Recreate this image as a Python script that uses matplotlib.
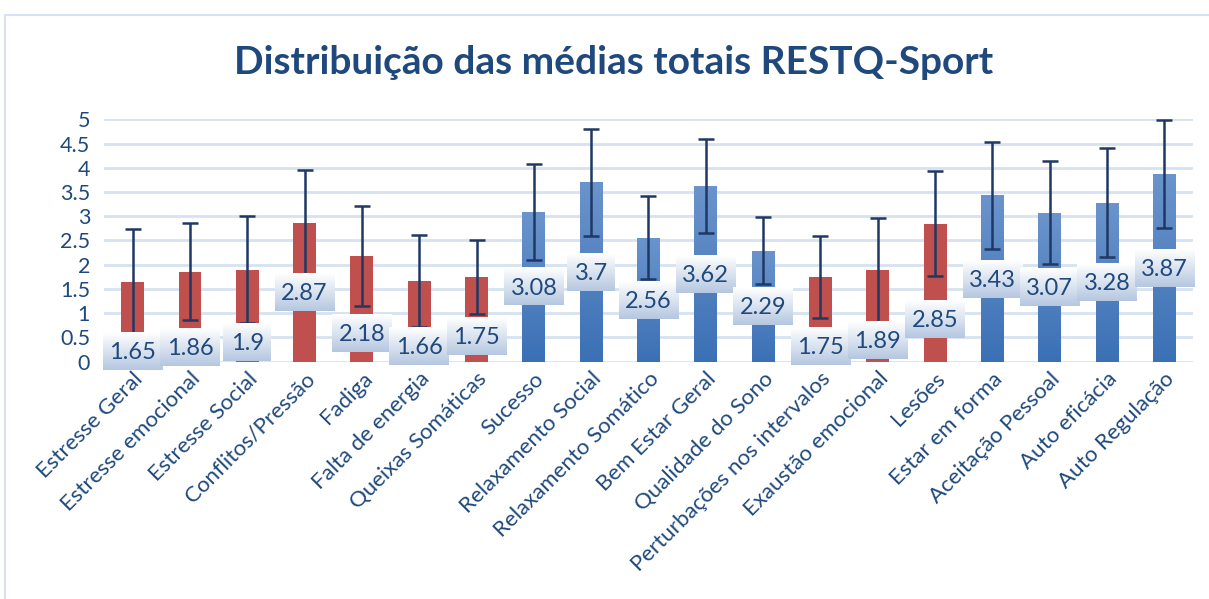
import numpy as np
import matplotlib.pyplot as plt
from matplotlib.patches import Rectangle

plt.rcParams['font.family'] = ['Lato', 'DejaVu Sans']

categorias = ["Estresse Geral", "Estresse emocional", "Estresse Social", "Conflitos/Pressão",
              "Fadiga", "Falta de energia", "Queixas Somáticas", "Sucesso", "Relaxamento Social",
              "Relaxamento Somático", "Bem Estar Geral", "Qualidade do Sono",
              "Perturbações nos intervalos", "Exaustão emocional", "Lesões", "Estar em forma",
              "Aceitação Pessoal", "Auto eficácia", "Auto Regulação"]
medias = [1.65, 1.86, 1.9, 2.87, 2.18, 1.66, 1.75, 3.08, 3.7, 2.56, 3.62, 2.29,
          1.75, 1.89, 2.85, 3.43, 3.07, 3.28, 3.87]
desvios = [1.09, 1.01, 1.11, 1.08, 1.04, 0.95, 0.76, 0.99, 1.10, 0.86, 0.97, 0.69,
           0.84, 1.08, 1.08, 1.10, 1.06, 1.13, 1.12]
# estresse (vermelho) ou recuperação (azul)
estresse = [1, 1, 1, 1, 1, 1, 1, 0, 0, 0, 0, 0, 1, 1, 1, 0, 0, 0, 0]
rotulos = ["1.65", "1.86", "1.9", "2.87", "2.18", "1.66", "1.75", "3.08", "3.7", "2.56",
           "3.62", "2.29", "1.75", "1.89", "2.85", "3.43", "3.07", "3.28", "3.87"]
# centro vertical das caixas de rótulo
pos_rotulo = [0.21, 0.30, 0.41, 1.43, 0.59, 0.32, 0.53, 1.55, 1.85, 1.27, 1.81, 1.14,
              0.33, 0.45, 0.88, 1.71, 1.54, 1.64, 1.93]

azul_escuro = "#1F497D"

fig = plt.figure(figsize=(12.09, 5.99), dpi=100)
ax = fig.add_axes([104 / 1209, 1 - 361.7 / 599, 1089 / 1209, 242.4 / 599])

x = np.arange(len(categorias))

for v in np.arange(0, 5.01, 0.5):
    ax.axhline(v, color="#D6E2F1", lw=2, zorder=0)

grad = np.linspace(0, 1, 100).reshape(-1, 1)
for i, (m, e) in enumerate(zip(medias, estresse)):
    if e:
        ax.add_patch(Rectangle((i - 0.2, 0), 0.4, m, color="#C0504D", zorder=2, lw=0))
    else:
        r = Rectangle((i - 0.2, 0), 0.4, m, facecolor="none", lw=0, zorder=2)
        ax.add_patch(r)
        cols = np.array([[0.42, 0.58, 0.80]]) * (1 - grad) + np.array([[0.23, 0.44, 0.71]]) * grad
        im = ax.imshow(cols.reshape(100, 1, 3), extent=(i - 0.2, i + 0.2, 0, m),
                       aspect="auto", zorder=2, origin="upper")
        im.set_clip_path(r)

ax.errorbar(x, medias, yerr=desvios, fmt="none", ecolor="#1F3864", elinewidth=1.8,
            capsize=6, capthick=1.8, zorder=3)

bw, bh = 1.04, 0.78
top = np.array([1.0, 1.0, 1.0])
bot = np.array([0.71, 0.78, 0.88])
box_cols = (top * (1 - grad) + bot * grad).reshape(100, 1, 3)
for i, (t, py) in enumerate(zip(rotulos, pos_rotulo)):
    w = bw if len(t) > 3 else bw * 0.8
    ax.imshow(box_cols, extent=(i - w / 2, i + w / 2, py - bh / 2, py + bh / 2),
              aspect="auto", zorder=4, origin="upper", clip_on=False)
    ax.text(i, py - 0.03, t, ha="center", va="center", fontsize=17, color=azul_escuro, zorder=5)

ax.set_xlim(-0.5, len(categorias) - 0.5)
ax.set_ylim(0, 5)
ax.set_yticks(np.arange(0, 5.01, 0.5))
ax.set_yticklabels(["0", "0.5", "1", "1.5", "2", "2.5", "3", "3.5", "4", "4.5", "5"])
ax.set_xticks(x)
ax.set_xticklabels(categorias, rotation=45, ha="right", rotation_mode="anchor")
ax.tick_params(axis="both", length=0, labelcolor=azul_escuro)
ax.tick_params(axis="x", pad=5, labelsize=16)
ax.tick_params(axis="y", pad=10, labelsize=15.5)
for s in ax.spines.values():
    s.set_visible(False)

fig.text(614 / 1209, 1 - 62 / 599, "Distribuição das médias totais RESTQ-Sport",
         ha="center", va="center", fontsize=28, fontweight="bold", color=azul_escuro)

fig.add_artist(Rectangle((4.5 / 1209, -0.1), 1.2, 1 - 14.5 / 599 + 0.1, transform=fig.transFigure,
                         fill=False, edgecolor="#D6E2F1", lw=1.5))

fig.savefig("out.png", dpi=100)
